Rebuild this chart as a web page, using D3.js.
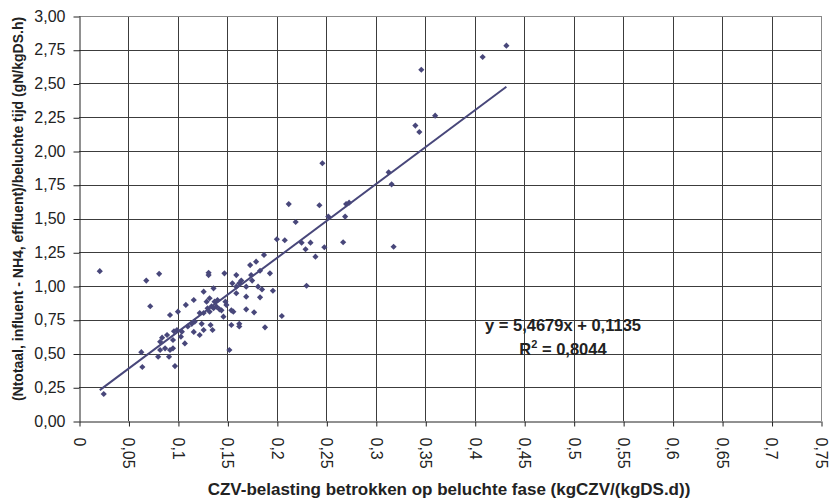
<!DOCTYPE html>
<html><head><meta charset="utf-8">
<script src="https://cdn.jsdelivr.net/npm/d3@7"></script>
<style>body{margin:0;background:#fff;} svg{display:block;}</style>
</head><body>
<svg id="c" width="834" height="502"></svg>
<script>
const xValues = [0.021,0.025,0.068,0.081,0.072,0.063,0.064,0.080,0.082,0.082,0.084,0.089,0.087,0.092,0.091,0.092,0.095,0.095,0.097,0.099,0.096,0.100,0.103,0.104,0.107,0.108,0.110,0.114,0.116,0.116,0.117,0.122,0.122,0.124,0.126,0.126,0.126,0.129,0.130,0.131,0.131,0.132,0.132,0.133,0.134,0.135,0.136,0.136,0.137,0.139,0.140,0.142,0.144,0.146,0.147,0.148,0.149,0.152,0.154,0.154,0.155,0.156,0.159,0.159,0.159,0.162,0.162,0.162,0.164,0.169,0.169,0.169,0.173,0.174,0.175,0.177,0.179,0.181,0.187,0.183,0.193,0.185,0.196,0.183,0.230,0.205,0.188,0.200,0.208,0.225,0.234,0.229,0.239,0.248,0.267,0.212,0.243,0.270,0.273,0.219,0.252,0.269,0.246,0.313,0.316,0.318,0.340,0.344,0.346,0.360,0.408,0.432];
const yValues = [1.11,0.20,1.04,1.09,0.85,0.51,0.40,0.476,0.526,0.587,0.617,0.637,0.538,0.526,0.476,0.785,0.538,0.60,0.407,0.674,0.665,0.81,0.625,0.662,0.575,0.86,0.70,0.72,0.66,0.896,0.736,0.80,0.637,0.72,0.958,0.80,0.674,0.884,0.835,1.081,1.098,0.909,0.81,0.711,0.85,0.674,0.835,0.983,0.884,0.847,0.896,0.827,0.82,0.773,1.094,0.884,0.86,0.526,0.82,0.711,1.02,0.81,1.081,0.946,0.995,1.02,0.72,0.70,1.04,0.995,0.921,0.827,1.155,1.081,1.04,0.805,1.18,0.995,1.23,1.113,1.094,0.975,0.965,0.916,1.002,0.778,0.694,1.346,1.339,1.321,1.321,1.272,1.217,1.287,1.324,1.607,1.598,1.607,1.617,1.474,1.514,1.514,1.909,1.842,1.753,1.291,2.188,2.141,2.602,2.262,2.696,2.780];
const xTicks = [0,0.05,0.1,0.15,0.2,0.25,0.3,0.35,0.4,0.45,0.5,0.55,0.6,0.65,0.7,0.75];
const yTicks = [0,0.25,0.5,0.75,1.0,1.25,1.5,1.75,2.0,2.25,2.5,2.75,3.0];
const slope = 5.4679, intercept = 0.1135, r2 = 0.8044;
const xTitle = "CZV-belasting betrokken op beluchte fase (kgCZV/(kgDS.d))";
const yTitle = "(Ntotaal, influent - NH4, effluent)/beluchte tijd (gN/kgDS.h)";

const fmtComma = (v, d) => v.toFixed(d).replace('.', ',');
const xLabel = v => v === 0 ? "0" : String(+v.toFixed(2)).replace('.', ',');

const svg = d3.select('#c');
const L = 79, R = 821, T = 16, B = 421;
const x = d3.scaleLinear().domain([0, 0.75]).range([L, R]);
const y = d3.scaleLinear().domain([0, 3]).range([B, T]);
const col = '#48477a';
const font = 'Liberation Sans, Arial, sans-serif';

// grid
const g = svg.append('g');
g.selectAll('line.v').data(xTicks.slice(1)).join('line')
  .attr('x1', d => Math.round(x(d)) + 0.5).attr('x2', d => Math.round(x(d)) + 0.5)
  .attr('y1', T).attr('y2', B).attr('stroke', d => d === 0.75 ? '#888' : '#3c3c3c').attr('stroke-width', 1);
g.selectAll('line.h').data(yTicks.slice(1)).join('line')
  .attr('y1', d => Math.round(y(d)) + 0.5).attr('y2', d => Math.round(y(d)) + 0.5)
  .attr('x1', L).attr('x2', R).attr('stroke', d => d === 3 ? '#888' : '#3c3c3c').attr('stroke-width', 1);

// axes
const xAxis = svg.append('g').attr('transform', `translate(0,${Math.round(B) + 0.5})`)
  .call(d3.axisBottom(x).tickValues(xTicks).tickSize(5).tickSizeOuter(0).tickFormat(xLabel));
const yAxis = svg.append('g').attr('transform', `translate(${Math.round(L) + 0.5},0)`)
  .call(d3.axisLeft(y).tickValues(yTicks).tickSize(6).tickSizeOuter(0).tickFormat(d => fmtComma(d, 2)));
[xAxis, yAxis].forEach(a => {
  a.select('.domain').attr('stroke', '#222');
  a.selectAll('.tick line').attr('stroke', '#222');
  a.selectAll('.tick text').attr('fill', '#222').style('font-family', font).style('font-size', '16px');
});
xAxis.selectAll('.tick line').attr('transform', 'translate(0.5,0)');
xAxis.selectAll('.tick text')
  .attr('transform', 'rotate(90)').attr('x', 16).attr('y', 0).attr('dy', '0.35em')
  .attr('text-anchor', 'start');
yAxis.selectAll('.tick text').attr('x', -14);
yAxis.selectAll('.tick line').attr('transform', 'translate(0,0.5)');

// points
const pts = xValues.map((v, i) => [v, yValues[i]]);
svg.append('g').selectAll('path').data(pts).join('path')
  .attr('d', d3.symbol(d3.symbolSquare, 19))
  .attr('transform', d => `translate(${x(d[0])},${y(d[1])}) rotate(45)`)
  .attr('fill', col);

// trendline
const xmin = d3.min(xValues), xmax = d3.max(xValues);
svg.append('line')
  .attr('x1', x(xmin)).attr('y1', y(slope * xmin + intercept))
  .attr('x2', x(xmax)).attr('y2', y(slope * xmax + intercept))
  .attr('stroke', col).attr('stroke-width', 2);

// equation
const eq = svg.append('g').style('font-family', font).style('font-weight', 'bold').style('font-size', '16.5px').attr('fill', '#222');
eq.append('text').attr('x', 563).attr('y', 331).attr('text-anchor', 'middle')
  .text(`y = ${fmtComma(slope, 4)}x + ${fmtComma(intercept, 4)}`);
const t2 = eq.append('text').attr('x', 563).attr('y', 355).attr('text-anchor', 'middle');
t2.append('tspan').text('R');
t2.append('tspan').attr('dy', -7).style('font-size', '11px').text('2');
t2.append('tspan').attr('dy', 7).text(` = ${fmtComma(r2, 4)}`);

// titles
svg.append('text').attr('x', 449).attr('y', 495).attr('text-anchor', 'middle')
  .style('font-family', font).style('font-weight', 'bold').style('font-size', '17px').attr('fill', '#222')
  .text(xTitle);
svg.append('text').attr('transform', `translate(23,209) rotate(-90)`).attr('text-anchor', 'middle')
  .style('font-family', font).style('font-weight', 'bold').style('font-size', '14px').attr('fill', '#222')
  .text(yTitle);
</script>
</body></html>
